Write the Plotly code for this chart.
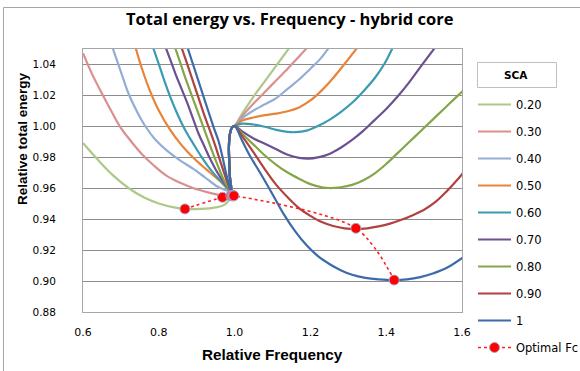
import plotly.graph_objects as go

# ---- data ----
sca_labels = ["0.20", "0.30", "0.40", "0.50", "0.60", "0.70", "0.80", "0.90", "1"]
sca_colors = ["#ADC98A", "#D9908E", "#93AED6", "#E8843A", "#3B9BB0",
              "#6C5192", "#85A646", "#B0423F", "#3D6BAA"]

freq_020 = [0.600, 0.640, 0.680, 0.720, 0.760, 0.800, 0.840, 0.870, 0.910, 0.950, 0.975, 0.987, 0.991,
            0.988, 0.986, 0.985, 0.987, 0.993, 1.000,
            1.020, 1.050, 1.080, 1.110, 1.140, 1.146]
energy_020 = [0.989, 0.978, 0.968, 0.960, 0.954, 0.950, 0.9475, 0.9465, 0.9465, 0.9475, 0.9495, 0.953, 0.958,
              0.966, 0.976, 0.986, 0.994, 0.999, 1.000,
              1.008, 1.019, 1.029, 1.039, 1.049, 1.051]

freq_030 = [0.600, 0.625, 0.650, 0.675, 0.698, 0.724, 0.755, 0.787, 0.820, 0.855, 0.890, 0.925, 0.961, 0.978, 0.991,
            0.988, 0.986, 0.985, 0.987, 0.993, 1.000,
            1.020, 1.050, 1.080, 1.110, 1.140, 1.165, 1.193]
energy_030 = [1.047, 1.033, 1.021, 1.0095, 0.9995, 0.991, 0.982, 0.9745, 0.968, 0.9635, 0.960, 0.9575, 0.9555, 0.9555, 0.958,
              0.966, 0.976, 0.986, 0.994, 0.999, 1.000,
              1.0065, 1.0145, 1.022, 1.0295, 1.037, 1.0435, 1.051]

freq_040 = [0.676, 0.700, 0.720, 0.742, 0.764, 0.790, 0.820, 0.855, 0.890, 0.920, 0.951, 0.975, 0.991,
            0.988, 0.986, 0.985, 0.987, 0.993, 1.000,
            1.020, 1.050, 1.080, 1.110, 1.140, 1.170, 1.200, 1.225, 1.250]
energy_040 = [1.052, 1.035, 1.021, 1.0095, 1.000, 0.9915, 0.9845, 0.978, 0.9725, 0.9672, 0.9615, 0.9588, 0.958,
              0.966, 0.976, 0.986, 0.994, 0.999, 1.000,
              1.005, 1.010, 1.014, 1.018, 1.024, 1.030, 1.037, 1.043, 1.051]

freq_050 = [0.737, 0.757, 0.777, 0.800, 0.830, 0.859, 0.885, 0.909, 0.935, 0.961, 0.978, 0.991,
            0.988, 0.986, 0.985, 0.987, 0.993, 1.000,
            1.020, 1.050, 1.080, 1.110, 1.140, 1.170, 1.200, 1.230, 1.260, 1.290, 1.325]
energy_050 = [1.052, 1.036, 1.0225, 1.010, 0.9975, 0.988, 0.981, 0.9755, 0.970, 0.9645, 0.9605, 0.958,
              0.966, 0.976, 0.986, 0.994, 0.999, 1.000,
              1.0035, 1.0055, 1.007, 1.008, 1.0095, 1.012, 1.0165, 1.023, 1.031, 1.040, 1.051]

freq_060 = [0.783, 0.800, 0.815, 0.830, 0.845, 0.860, 0.875, 0.890, 0.910, 0.930, 0.950, 0.970, 0.991,
            0.988, 0.986, 0.985, 0.987, 0.993, 1.000,
            1.020, 1.050, 1.080, 1.110, 1.140, 1.160, 1.190, 1.220, 1.250, 1.280, 1.310, 1.340, 1.370, 1.395, 1.418]
energy_060 = [1.052, 1.040, 1.029, 1.019, 1.010, 1.002, 0.995, 0.989, 0.981, 0.974, 0.968, 0.963, 0.958,
              0.966, 0.976, 0.986, 0.994, 0.999, 1.000,
              1.0015, 1.001, 0.9995, 0.9975, 0.9962, 0.996, 0.997, 1.000, 1.004, 1.009, 1.015, 1.0225, 1.031, 1.040, 1.051]

freq_070 = [0.816, 0.830, 0.845, 0.860, 0.875, 0.890, 0.905, 0.920, 0.935, 0.950, 0.965, 0.978, 0.991,
            0.988, 0.986, 0.985, 0.987, 0.993, 1.000,
            1.020, 1.050, 1.080, 1.110, 1.140, 1.170, 1.195, 1.220, 1.250, 1.280, 1.310, 1.340, 1.370, 1.400,
            1.430, 1.460, 1.490, 1.530]
energy_070 = [1.052, 1.043, 1.033, 1.024, 1.015, 1.005, 0.995, 0.987, 0.979, 0.972, 0.966, 0.9615, 0.958,
              0.966, 0.976, 0.986, 0.994, 0.999, 1.000,
              0.9965, 0.992, 0.9885, 0.985, 0.9815, 0.9795, 0.979, 0.9798, 0.982, 0.986, 0.991, 0.997, 1.004, 1.011,
              1.019, 1.028, 1.038, 1.051]

freq_080 = [0.841, 0.855, 0.870, 0.885, 0.900, 0.915, 0.930, 0.945, 0.958, 0.970, 0.981, 0.991,
            0.988, 0.986, 0.985, 0.987, 0.993, 1.000,
            1.020, 1.050, 1.080, 1.110, 1.140, 1.170, 1.200, 1.230, 1.250, 1.280, 1.310, 1.340, 1.370, 1.400,
            1.430, 1.460, 1.490, 1.520, 1.550, 1.580, 1.610]
energy_080 = [1.052, 1.042, 1.031, 1.021, 1.011, 1.001, 0.991, 0.981, 0.973, 0.966, 0.961, 0.958,
              0.966, 0.976, 0.986, 0.994, 0.999, 1.000,
              0.995, 0.988, 0.981, 0.975, 0.970, 0.966, 0.9625, 0.9605, 0.960, 0.9605, 0.962, 0.965, 0.9695, 0.9755,
              0.9825, 0.9895, 0.9965, 1.0035, 1.0105, 1.0175, 1.0245]

freq_090 = [0.858, 0.875, 0.890, 0.905, 0.920, 0.935, 0.948, 0.960, 0.972, 0.982, 0.991,
            0.988, 0.986, 0.985, 0.987, 0.993, 1.000,
            1.020, 1.050, 1.080, 1.110, 1.140, 1.170, 1.200, 1.230, 1.260, 1.290, 1.320, 1.350, 1.380, 1.410,
            1.440, 1.470, 1.500, 1.530, 1.560, 1.590, 1.610]
energy_090 = [1.052, 1.040, 1.029, 1.018, 1.007, 0.997, 0.988, 0.979, 0.970, 0.963, 0.958,
              0.966, 0.976, 0.986, 0.994, 0.999, 1.000,
              0.9935, 0.983, 0.972, 0.962, 0.954, 0.947, 0.942, 0.938, 0.9355, 0.934, 0.9335, 0.934, 0.9352, 0.937,
              0.9395, 0.9425, 0.946, 0.951, 0.958, 0.966, 0.972]

freq_100 = [0.874, 0.890, 0.910, 0.930, 0.945, 0.958, 0.969, 0.979, 0.986, 0.991,
            0.988, 0.986, 0.985, 0.987, 0.993, 1.000,
            1.020, 1.040, 1.067, 1.100, 1.130, 1.160, 1.190, 1.220, 1.250, 1.280, 1.310, 1.345, 1.380, 1.420,
            1.455, 1.490, 1.525, 1.560, 1.610]
energy_100 = [1.052, 1.040, 1.025, 1.010, 0.999, 0.990, 0.979, 0.968, 0.962, 0.958,
              0.966, 0.976, 0.986, 0.994, 0.999, 1.000,
              0.9905, 0.981, 0.970, 0.956, 0.943, 0.932, 0.923, 0.916, 0.911, 0.907, 0.904, 0.902, 0.901, 0.9005,
              0.901, 0.9025, 0.905, 0.9085, 0.9165]

opt_freq = [0.869, 0.968, 0.990, 0.993, 0.995, 0.997, 0.998, 1.320, 1.421]
opt_energy = [0.9465, 0.954, 0.955, 0.955, 0.955, 0.955, 0.955, 0.934, 0.9006]

x_ticks = [0.6, 0.8, 1.0, 1.2, 1.4, 1.6]
y_ticks = [0.88, 0.90, 0.92, 0.94, 0.96, 0.98, 1.00, 1.02, 1.04]

series = [(freq_020, energy_020), (freq_030, energy_030), (freq_040, energy_040),
          (freq_050, energy_050), (freq_060, energy_060), (freq_070, energy_070),
          (freq_080, energy_080), (freq_090, energy_090), (freq_100, energy_100)]

# ---- figure ----
W, H = 580, 371
L, R, T, B = 83, 462, 49, 312

fig = go.Figure()
for (fx, ey), name, col in zip(series, sca_labels, sca_colors):
    fig.add_trace(go.Scatter(
        x=fx, y=ey, mode="lines", name=name, legendgroup=name,
        line=dict(color=col, width=2.2, shape="spline", smoothing=1.0),
        hoverinfo="skip"))

fig.add_trace(go.Scatter(
    x=opt_freq, y=opt_energy, mode="lines+markers", name="Optimal Fc", legendgroup="opt",
    line=dict(color="#FF2020", width=1.6, dash="dot", shape="spline", smoothing=0.9),
    marker=dict(color="#FF0000", size=10, line=dict(color="#A9A6CF", width=1)),
    hoverinfo="skip"))

def px_to_paper_x(px):
    return (px - L) / (R - L)

def px_to_paper_y(py):
    return (B - py) / (B - T)

grid_col = "#8C8C8C"
fig.update_layout(
    width=W, height=H,
    margin=dict(l=L, r=W - R, t=T, b=H - B, autoexpand=False),
    paper_bgcolor="white", plot_bgcolor="white",
    showlegend=True,
    legend=dict(
        x=px_to_paper_x(473), y=px_to_paper_y(90), xanchor="left", yanchor="top",
        font=dict(family="DejaVu Sans", size=11.5, color="#000000"),
        tracegroupgap=8, bgcolor="rgba(0,0,0,0)", itemwidth=33, maxheight=320,
    ),
    xaxis=dict(
        range=[0.6, 1.6], tickvals=x_ticks, ticktext=[f"{v:.1f}" for v in x_ticks],
        showgrid=False, zeroline=False, showline=True, linecolor="#A6A6A6", linewidth=1,
        mirror=True, ticks="", ticklabelstandoff=10,
        tickfont=dict(family="DejaVu Sans", size=11, color="#000000"),
    ),
    yaxis=dict(
        range=[0.88, 1.0497], tickvals=y_ticks, ticktext=[f"{v:.2f}" for v in y_ticks],
        showgrid=True, gridcolor=grid_col, gridwidth=1, zeroline=False,
        showline=True, linecolor="#A6A6A6", linewidth=1, mirror=True,
        ticks="", ticklabelstandoff=24,
        tickfont=dict(family="DejaVu Sans", size=10.5, color="#000000"),
    ),
    annotations=[
        dict(text="<b>Total energy vs. Frequency - hybrid core</b>", xref="paper", yref="paper",
             x=px_to_paper_x(290), y=px_to_paper_y(19), xanchor="center", yanchor="middle",
             showarrow=False, font=dict(family="Open Sans", size=16.5, color="#000000")),
        dict(text="<b>Relative Frequency</b>", xref="paper", yref="paper",
             x=px_to_paper_x(272), y=px_to_paper_y(354), xanchor="center", yanchor="middle",
             showarrow=False, font=dict(family="Liberation Sans", size=15.3, color="#000000")),
        dict(text="<b>Relative total energy</b>", xref="paper", yref="paper", textangle=-90,
             x=px_to_paper_x(22), y=px_to_paper_y(139), xanchor="center", yanchor="middle",
             showarrow=False, font=dict(family="Liberation Sans", size=13.5, color="#000000")),
        dict(text="<b>SCA</b>", xref="paper", yref="paper",
             x=px_to_paper_x(516), y=px_to_paper_y(74.5), xanchor="center", yanchor="middle",
             showarrow=False, font=dict(family="DejaVu Sans", size=10.5, color="#000000")),
    ],
    shapes=[
        dict(type="rect", xref="paper", yref="paper",
             x0=px_to_paper_x(3.5), x1=px_to_paper_x(600), y0=px_to_paper_y(390), y1=px_to_paper_y(7.5),
             line=dict(color="#A6A6A6", width=1), layer="below"),
        dict(type="rect", xref="paper", yref="paper",
             x0=px_to_paper_x(477.5), x1=px_to_paper_x(556.5), y0=px_to_paper_y(87.5), y1=px_to_paper_y(62.5),
             line=dict(color="#BFBFBF", width=1)),
    ],
)

fig.write_html("out.html")
